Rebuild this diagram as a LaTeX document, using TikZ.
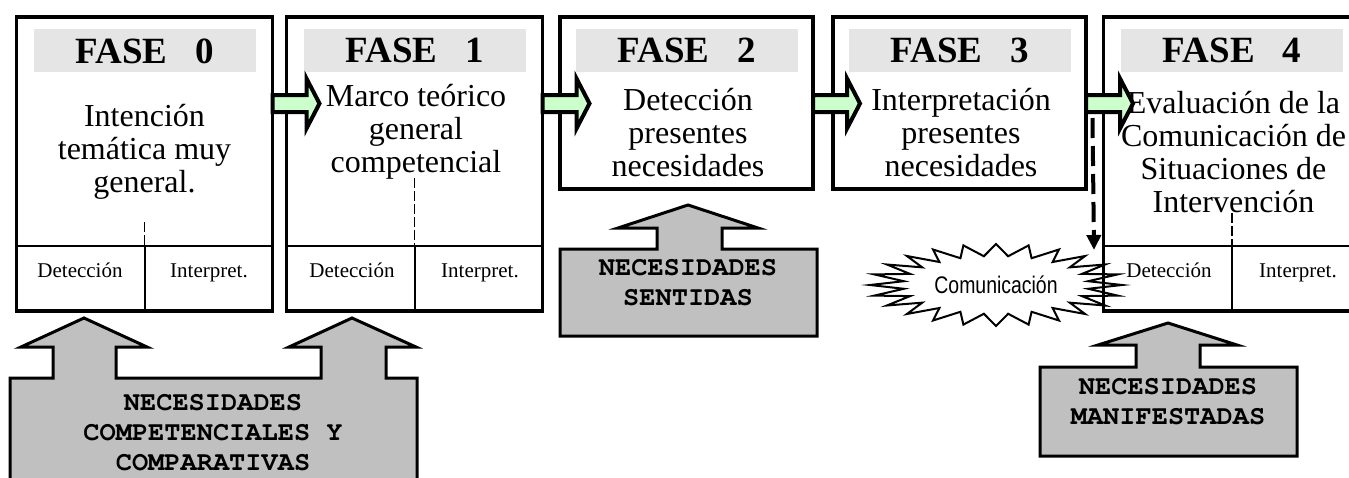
\documentclass[tikz,border=0pt]{standalone}
\usepackage[T1]{fontenc}
\usepackage{fontspec}
\setmainfont{Liberation Serif}
\newfontfamily\narrowsans[FakeStretch=0.81]{Liberation Sans}
\newcommand\courierbold{\fontencoding{T1}\fontfamily{pcr}\fontseries{b}\selectfont}
\usetikzlibrary{positioning,arrows.meta}
\definecolor{bandgray}{gray}{0.9}
\definecolor{arrowgreen}{RGB}{204,255,204}
\definecolor{needgray}{RGB}{192,192,192}

\begin{document}
\begin{tikzpicture}[
  x=0.5pt, y=-0.5pt,
  tall/.style={draw, line width=1.8pt, inner sep=0pt, outer sep=0pt,
               minimum width=128pt, minimum height=147pt},
  short/.style={tall, minimum width=126.5pt, minimum height=86pt},
  band/.style={fill=bandgray, inner sep=0pt, minimum width=111pt, minimum height=21.5pt,
               font=\bfseries\fontsize{18.5}{20}\selectfont},
  body/.style={align=center, inner sep=0pt, font=\fontsize{16}{16.5}\selectfont},
  cell/.style={inner sep=0pt, anchor=base, font=\fontsize{10.5}{12}\selectfont},
  row/.style={line width=1pt},
  guide/.style={line width=0.8pt, dash pattern=on 5pt off 1.5pt},
  garrow/.style={draw, line width=2pt, fill=arrowgreen},
  need/.style={draw, line width=1.5pt, fill=needgray},
  needtext/.style={align=center, inner sep=0pt, font=\courierbold\fontsize{13.5}{15}\selectfont},
  burst/.style={line width=1pt},
  talk/.style={-{Triangle[width=7pt,length=7.5pt]}, line width=2pt, dash pattern=on 10pt off 4pt},
]
  \useasboundingbox (0,0) rectangle (1349,477);

  % fases
  \node[tall] (b0) at (144.5,164) {};
  \node[tall, right=7pt of b0] (b1) {};
  \node[short, right=8.75pt of b1.north east, anchor=north west] (b2) {};
  \node[short, right=10pt of b2] (b3) {};
  \node[tall, right=8.75pt of b3.north east, anchor=north west, minimum width=128.5pt] (b4) {};

  \node[band, below=6pt of b0.north] (t0) {FASE~~~0};
  \node[band, below=6pt of b1.north] (t1) {FASE~~~1};
  \node[band, below=6pt of b2.north] (t2) {FASE~~~2};
  \node[band, below=6pt of b3.north] (t3) {FASE~~~3};
  \node[band, below=6pt of b4.north] (t4) {FASE~~~4};

  \node[body] (x0) at (144.5,152) {Intención\\temática muy\\general.};
  \node[body] (x1) at (416,132) {Marco teórico\\general\\competencial};
  \node[body] (x2) at (688,133) {Detección\\presentes\\necesidades};
  \node[body] (x3) at (961,133) {Interpretación\\presentes\\necesidades};
  \node[body] (x4) at (1233.5,152) {Evaluación de la\\Comunicación de\\Situaciones de\\Intervención};

  % filas detección / interpretación
  \foreach \k/\gy in {b0/222, b1/178, b4/213} {
    \draw[row] (\k.west |- 0,246) -- (\k.east |- 0,246);
    \draw[row] (\k.center |- 0,246) -- (\k.south);
    \draw[guide] (\k.center |- 0,\gy) -- (\k.center |- 0,246);
  }
  \node[cell] (d0) at (80,277) {Detección};
  \node[cell] (i0) at (209,277) {Interpret.};
  \node[cell] (d1) at (352,277) {Detección};
  \node[cell] (i1) at (480,277) {Interpret.};
  \node[cell] (d4) at (1169,277) {Detección};
  \node[cell] (i4) at (1298,277) {Interpret.};

  % flechas entre fases
  \foreach \k in {b0,b1,b2,b3}
    \draw[garrow] (\k.east |- 0,103.5) -- ++(0,-8.5) -- ++(34,0) -- ++(0,-16.5)
      -- ++(13,25) -- ++(-13,25) -- ++(0,-16.5) -- ++(-34,0) -- cycle;

  % comunicacion
  \node[font=\narrowsans\fontsize{12}{13}\selectfont] (com) at (996,285) {Comunicación};
  \begin{scope}[shift={(com.center)}]
    \draw[burst] plot[samples at={0,...,47}]
      ({(126-33*mod(\x,2))*cos(7.5*\x)}, {(41-12*mod(\x,2))*sin(7.5*\x)}) -- cycle;
  \end{scope}
  \coordinate (comtop) at (1094,250);
  \draw[talk] (b3.east |- 0,118) ++(6.5,0) -- (comtop);

  % necesidades
  \draw[need] (10,490) -- (10,378) -- (53,378) -- (53,347) -- (21,347) -- (84,318)
    -- (147,347) -- (116,347) -- (116,378) -- (321,378) -- (321,347) -- (289,347)
    -- (352,318) -- (416,347) -- (386,347) -- (386,378) -- (417,378) -- (417,490) -- cycle;
  \node[needtext] (n0) at (213,433) {NECESIDADES\\COMPETENCIALES Y\\COMPARATIVAS};

  \draw[need] (560,336) -- (560,249) -- (657,249) -- (657,228) -- (618,228) -- (688,205)
    -- (758,228) -- (722,228) -- (722,249) -- (817,249) -- (817,336) -- cycle;
  \node[needtext] (n2) at (688,283) {NECESIDADES\\SENTIDAS};

  \draw[need] (1040,456) -- (1040,367) -- (1136,367) -- (1136,345) -- (1098,345) -- (1168,323)
    -- (1237,345) -- (1200,345) -- (1200,367) -- (1297,367) -- (1297,456) -- cycle;
  \node[needtext] (n4) at (1168,402) {NECESIDADES\\MANIFESTADAS};
\end{tikzpicture}
\end{document}
